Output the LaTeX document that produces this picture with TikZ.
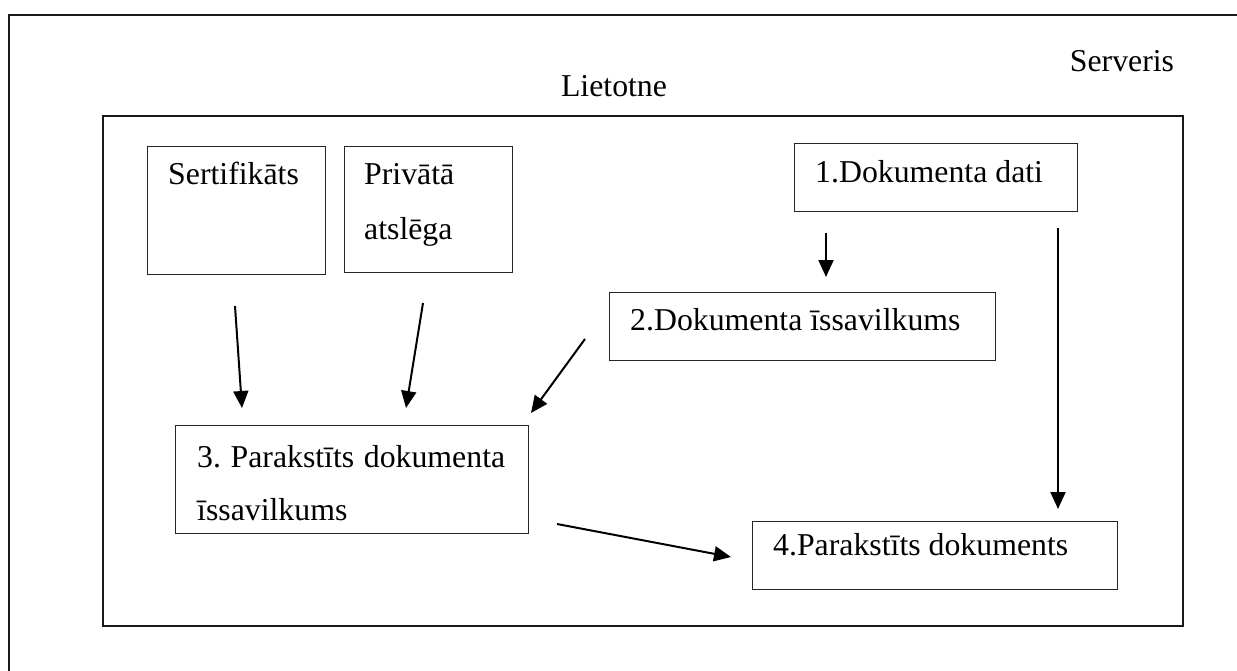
\documentclass[tikz,border=0pt]{standalone}
\usepackage{fontspec}
\setmainfont{Liberation Serif}
\usetikzlibrary{arrows.meta}
\begin{document}
\begin{tikzpicture}[x=1pt,y=-1pt,
  frame/.style={draw=black!90,line width=2.8pt},
  box/.style={draw=black!85,line width=1.1pt,minimum width=#1},
  txt/.style={inner sep=0pt,font=\fontsize{31.8}{38}\selectfont},
  flow/.style={draw=black,line width=2pt,-{Triangle[length=17pt,width=15pt]}}]
\useasboundingbox (0,0) rectangle (1237,671);

% server frame (runs off the page on the right and bottom)
\draw[frame] (9,671) -- (9,15) -- (1237,15);
\node[txt,anchor=base] (srv) at (1122,72) {Serveris};

% application frame
\draw[frame] (103,116) rectangle (1183,626);
\node[txt,anchor=base] (app) at (614,97) {Lietotne};

% boxes
\node[box=178pt,minimum height=128pt,anchor=north west,inner sep=0pt] (cert) at (147,146) {};
\node[box=168pt,minimum height=126pt,anchor=north west,inner sep=0pt] (key) at (344,146) {};
\node[box=283pt,minimum height=68pt,anchor=north west,inner sep=0pt] (d1) at (794,143) {};
\node[box=386pt,minimum height=68pt,anchor=north west,inner sep=0pt] (d2) at (609,292) {};
\node[box=353pt,minimum height=108pt,anchor=north west,inner sep=0pt] (d3) at (175,425) {};
\node[box=365pt,minimum height=68pt,anchor=north west,inner sep=0pt] (d4) at (752,521) {};

% box texts
\node[txt,anchor=base west] (certT) at (168,185) {Sertifikāts};
\node[txt,anchor=base west] (keyT1) at (364,185) {Privātā};
\node[txt,anchor=base west] (keyT2) at (364,240) {atslēga};
\node[txt,anchor=base west] (d1T) at (815,183) {1.Dokumenta dati};
\node[txt,anchor=base west] (d2T) at (630,330) {2.Dokumenta īssavilkums};
\node[txt,anchor=base west] (d3T1) at (197,467) {\frenchspacing\makebox[308pt][s]{3. Parakstīts dokumenta}};
\node[txt,anchor=base west] (d3T2) at (197,520) {īssavilkums};
\node[txt,anchor=base west] (d4T) at (773,555) {4.Parakstīts dokuments};

% arrow ends
\coordinate (certOut) at (235,306);
\coordinate (certIn)  at (242,408);
\coordinate (keyOut)  at (423,303);
\coordinate (keyIn)   at (406,408);
\coordinate (d2Out)   at (585,339);
\coordinate (d2In)    at (531,413);
\coordinate (d1Out)   at (826,233);
\coordinate (d1In)    at (826,277);
\coordinate (d1Far)   at (1058,228);
\coordinate (d4Top)   at (1058,509);
\coordinate (d3Out)   at (557,524);
\coordinate (d4In)    at (731,557);

% arrows
\draw[flow] (certOut) -- (certIn);
\draw[flow] (keyOut) -- (keyIn);
\draw[flow] (d2Out) -- (d2In);
\draw[flow] (d1Out) -- (d1In);
\draw[flow] (d1Far) -- (d4Top);
\draw[flow] (d3Out) -- (d4In);
\end{tikzpicture}
\end{document}
